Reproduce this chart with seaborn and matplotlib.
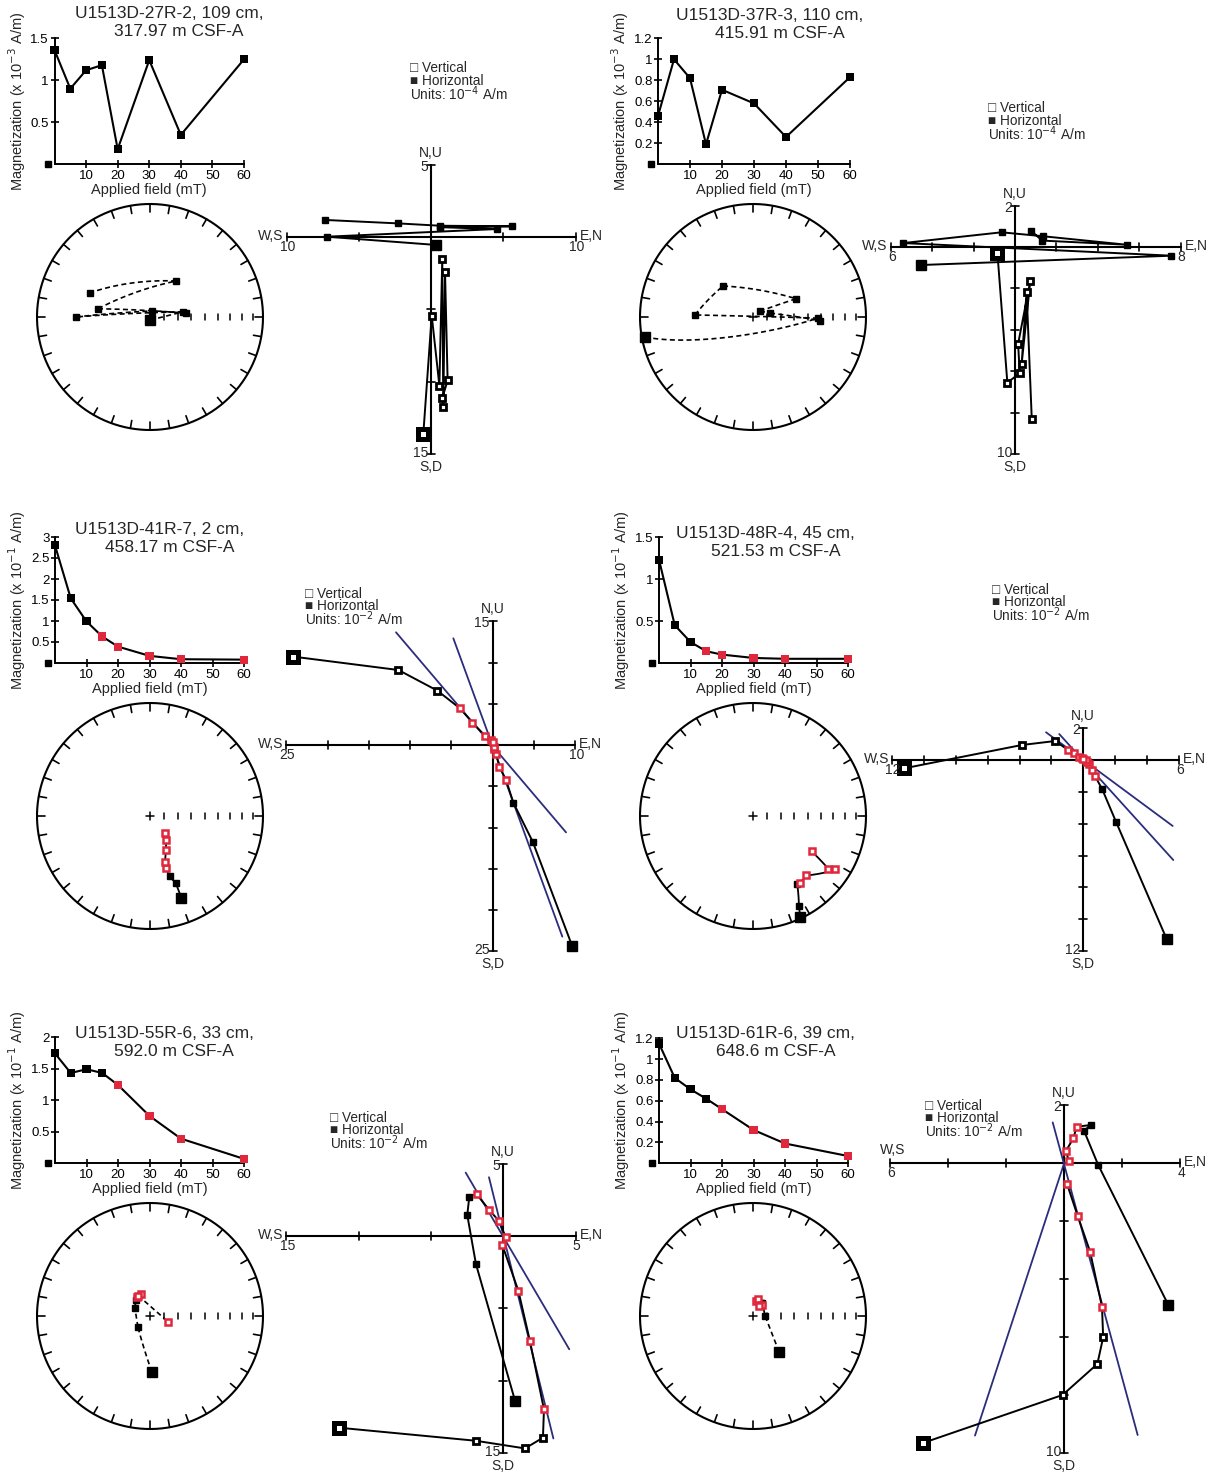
import numpy as np
import matplotlib
matplotlib.use("Agg")
import matplotlib.pyplot as plt
import seaborn as sns
import pandas as pd

sns.set_style("white")
plt.rcParams['font.family'] = ['Liberation Sans', 'DejaVu Sans']

W, H = 1219, 1475
fig = plt.figure(figsize=(W / 100, H / 100), dpi=100)

RED = '#e0283c'
BLUE = '#2b2d7c'

# ---------------- data ----------------
fields = [0, 5, 10, 15, 20, 30, 40, 60]

titles = [("U1513D-27R-2, 109 cm,", "317.97 m CSF-A"),
          ("U1513D-37R-3, 110 cm,", "415.91 m CSF-A"),
          ("U1513D-41R-7, 2 cm,", "458.17 m CSF-A"),
          ("U1513D-48R-4, 45 cm,", "521.53 m CSF-A"),
          ("U1513D-55R-6, 33 cm,", "592.0 m CSF-A"),
          ("U1513D-61R-6, 39 cm,", "648.6 m CSF-A")]
mag_exp = ["-3", "-3", "-1", "-1", "-1", "-1"]
unit_exp = ["-4", "-4", "-2", "-2", "-2", "-2"]

mag1 = [1.36, 0.90, 1.12, 1.18, 0.18, 1.24, 0.35, 1.25]
mag2 = [0.46, 1.00, 0.82, 0.19, 0.71, 0.58, 0.26, 0.83]
mag3 = [2.80, 1.54, 0.99, 0.63, 0.39, 0.17, 0.09, 0.08]
mag4 = [1.23, 0.45, 0.25, 0.14, 0.10, 0.06, 0.05, 0.05]
mag5 = [1.74, 1.43, 1.49, 1.43, 1.24, 0.75, 0.39, 0.07]
mag6 = [1.15, 0.82, 0.71, 0.62, 0.52, 0.32, 0.19, 0.07]
mag_ymax = [1.5, 1.2, 3.0, 1.5, 2.0, 1.2]
mag_yticks = [[0.5, 1, 1.5], [0.2, 0.4, 0.6, 0.8, 1, 1.2], [0.5, 1, 1.5, 2, 2.5, 3],
              [0.5, 1, 1.5], [0.5, 1, 1.5, 2], [0.2, 0.4, 0.6, 0.8, 1, 1.2]]
# first demagnetization step used in the fit (index), None = no fit
fit_start = [None, None, 3, 3, 4, 4]

# stereonet: declination / inclination (deg)
dec1 = [180, 81, 270, 19, 84, 279, 36, 292]
inc1 = [-87.8, -65.9, -34.8, -85.4, -63.7, -51.6, -57.7, -42.3]
dec2 = [259.5, 91, 272, 316, 67, 50, 77, 93]
inc2 = [-3.2, -42, -47.4, -58.7, -56, -83.4, -77.4, -40.3]
dec3 = [159, 159, 162, 163, 162, 155, 146, 138]
inc3 = [23.4, 36.5, 43.3, 50.2, 54.7, 62.8, 69.2, 73.7]
dec4 = [155, 153, 147, 145, 138, 123, 125, 121]
inc4 = [1.6, 11.6, 29, 28.4, 30, 14.2, 19.8, 39.2]
dec5 = [178, 228, 298, 319, 325, 338, 330, 108]
inc5 = [-48.9, -78.3, 77.7, 74.6, 73.5, 72.8, 73, -76.3]
dec6 = [144, 90, 35, 30, 10, 15, 40, 30]
inc6 = [-57.7, 81.3, 78.5, 79, 79, 77, 80, 82]

# Zijderveld: horizontal (filled) and vertical (open) projections
zh1_x = [0.35, -7.21, 4.54, 0.62, 5.60, 0.62, -2.26, -7.33]
zh1_y = [-0.55, 0.02, 0.55, 0.68, 0.74, 0.78, 0.94, 1.18]
zv1_x = [-0.53, 0.05, 0.58, 0.78, 0.85, 0.97, 1.15, 0.78]
zv1_y = [-13.6, -5.44, -10.28, -1.54, -11.77, -2.40, -9.93, -11.15]

zh2_x = [-4.53, 7.56, -5.40, -0.65, 1.35, 5.39, 1.31, 0.77]
zh2_y = [-0.87, -0.42, 0.19, 0.71, 0.52, 0.11, 0.31, 0.79]
zv2_x = [-0.85, -0.37, 0.23, 0.15, 0.74, 0.32, 0.56, 0.81]
zv2_y = [-0.29, -6.55, -6.10, -4.68, -1.63, -5.66, -2.15, -8.31]

zh3_x = [9.62, 4.85, 2.50, 1.62, 0.81, 0.40, 0.20, 0.10]
zh3_y = [-24.32, -11.72, -6.99, -4.24, -2.63, -1.10, -0.50, -0.20]
zv3_x = [-24.16, -11.43, -6.71, -3.96, -2.46, -0.93, -0.24, 0.00]
zv3_y = [10.71, 9.09, 6.59, 4.44, 2.71, 1.13, 0.61, 0.40]

zh4_x = [5.23, 2.05, 1.19, 0.73, 0.56, 0.38, 0.25, 0.15]
zh4_y = [-11.23, -3.87, -1.84, -1.00, -0.63, -0.27, -0.10, 0.00]
zv4_x = [-11.23, -3.87, -1.78, -0.94, -0.59, -0.25, -0.10, 0.00]
zv4_y = [-0.52, 0.94, 1.19, 0.63, 0.42, 0.21, 0.10, 0.05]

zh5_x = [0.81, -1.89, -2.49, -2.35, -1.84, -0.97, -0.32, 0.16]
zh5_y = [-11.38, -1.94, 1.45, 2.72, 2.88, 1.80, 1.06, -0.05]
zv5_x = [-11.34, -1.91, 1.50, 2.74, 2.81, 1.84, 1.04, -0.07]
zv5_y = [-13.25, -14.15, -14.68, -13.94, -11.98, -7.26, -3.78, -0.62]

zh6_x = [3.59, 1.17, 0.68, 0.91, 0.43, 0.31, 0.06, 0.15]
zh6_y = [-4.91, -0.08, 1.10, 1.30, 1.24, 0.84, 0.41, 0.07]
zv6_x = [-4.86, -0.06, 1.14, 1.34, 1.30, 0.89, 0.46, 0.10]
zv6_y = [-9.66, -8.01, -6.94, -6.02, -4.97, -3.07, -1.83, -0.75]

# principal-component fit lines (x0, y0, x1, y1)
fits3 = [(-11.72, 13.66, 8.89, -10.59), (-4.77, 12.93, 8.44, -23.23)]
fits4 = [(-2.34, 1.74, 5.61, -4.14), (-1.51, 1.63, 5.65, -6.28)]
fits5 = [(-2.60, 4.38, 4.56, -7.83), (-0.99, 4.06, 3.46, -13.99)]
fits6 = [(-0.40, 1.39, 2.53, -9.39), (-3.08, -9.41, 0.0, 0.0)]

# Zijderveld axis extents: x range, y range, tick step
zij_xr = [(-10, 10), (-6, 8), (-25, 10), (-12, 6), (-15, 5), (-6, 4)]
zij_yr = [(-15, 5), (-10, 2), (-25, 15), (-12, 2), (-15, 5), (-10, 2)]
zij_step = [5, 2, 5, 2, 5, 2]

# ---------------- layout (pixels) ----------------
demag_box = [(54.5, 38.3, 244, 164.3), (658, 38.3, 850, 164.3),
             (55, 537, 244, 663), (659, 537, 848, 663),
             (55, 1037, 244, 1163.3), (659, 1038.3, 848, 1163.3)]
stereo_c = [(150, 317), (753, 317), (150, 816), (753, 816), (150, 1316), (753, 1316)]
zij_c = [(431, 237), (1015, 247), (492.7, 745), (1083.3, 760), (503.3, 1236), (1064.3, 1162.7)]
zij_scale = [14.45, 20.7, 8.25, 15.93, 14.47, 29.0]
title_pos = [(75, 114, 14, 32), (676, 715, 16, 34), (75, 105, 530, 548),
             (676, 711, 533, 551), (75, 114, 1033, 1051), (676, 716, 1033, 1051)]
legend_pos = [(410, 68), (988, 108), (305, 593), (992, 589), (330, 1117), (925, 1105)]


def px_axes(x0, y0, x1, y1):
    return fig.add_axes([x0 / W, 1 - y1 / H, (x1 - x0) / W, (y1 - y0) / H])


def ftext(x, y, s, **kw):
    kw.setdefault('fontsize', 10)
    return fig.text(x / W, 1 - y / H, s, **kw)


def demag(i, mag):
    x0, y0, x1, y1 = demag_box[i]
    ax = px_axes(x0, y0, x1, y1)
    df = pd.DataFrame({'field': fields, 'mag': mag})
    sns.lineplot(data=df, x='field', y='mag', color='black', lw=1.5, ax=ax,
                 sort=False, estimator=None)
    fs = fit_start[i]
    cols = ['black' if (fs is None or k < fs) else RED for k in range(len(fields))]
    df['c'] = cols
    sns.scatterplot(data=df, x='field', y='mag', hue='c', palette={'black': 'black', RED: RED},
                    marker='s', s=34, edgecolor='none', legend=False, ax=ax, zorder=3,
                    clip_on=False)
    ax.set_xlim(0, 60)
    ax.set_ylim(0, mag_ymax[i])
    ax.set_xticks([10, 20, 30, 40, 50, 60])
    ax.set_yticks(mag_yticks[i])
    ax.set_yticklabels([f"{t:g}" for t in mag_yticks[i]])
    for s in ['top', 'right']:
        ax.spines[s].set_visible(False)
    for s in ['left', 'bottom']:
        ax.spines[s].set_color('black')
        ax.spines[s].set_linewidth(1.4)
    ax.tick_params(direction='inout', length=6, width=1.2, labelsize=9.5, pad=1,
                   colors='black', bottom=True, left=True)
    ax.set_xlabel("Applied field (mT)", fontsize=10.5, labelpad=1)
    ax.set_ylabel("Magnetization (x 10$^{" + mag_exp[i] + "}$ A/m)", fontsize=10.5, labelpad=2)
    ax.plot([-2.1], [0], marker='s', color='black', ms=5, clip_on=False)
    ax.patch.set_alpha(0)
    t1, t2 = titles[i]
    xa, xb, ya, yb = title_pos[i]
    ftext(xa, ya, t1, fontsize=12.5, va='center', ha='left')
    ftext(xb, yb, t2, fontsize=12.5, va='center', ha='left')


def eqarea(dec, inc):
    dec = np.radians(np.asarray(dec, float))
    inc = np.asarray(inc, float)
    r = np.sqrt(2) * np.sin(np.radians(90 - np.abs(inc)) / 2)
    return r * np.sin(dec), r * np.cos(dec)


def stereonet(i, dec, inc):
    cx, cy = stereo_c[i]
    R = 113
    ax = px_axes(cx - 1.1 * R, cy - 1.1 * R, cx + 1.1 * R, cy + 1.1 * R)
    ax.set_xlim(-1.1, 1.1)
    ax.set_ylim(-1.1, 1.1)
    ax.axis('off')
    th = np.linspace(0, 2 * np.pi, 400)
    ax.plot(np.cos(th), np.sin(th), color='black', lw=1.5)
    for a in np.radians(np.arange(0, 360, 10)):
        ax.plot([np.sin(a), 0.93 * np.sin(a)], [np.cos(a), 0.93 * np.cos(a)], color='black', lw=1.2)
    ax.plot([-0.035, 0.035], [0, 0], color='black', lw=1.1)
    ax.plot([0, 0], [-0.035, 0.035], color='black', lw=1.1)
    for I in range(80, 0, -10):
        r = np.sqrt(2) * np.sin(np.radians(90 - I) / 2)
        ax.plot([r, r], [-0.025, 0.025], color='black', lw=1.1)
    d = np.radians(np.asarray(dec, float))
    I = np.radians(np.asarray(inc, float))
    v = np.stack([np.cos(I) * np.cos(d), np.cos(I) * np.sin(d), np.sin(I)], axis=1)
    px, py = eqarea(dec, inc)
    dash = (0, (3, 2))
    for k in range(len(v) - 1):
        a, b = v[k], v[k + 1]
        if (inc[k] < 0) != (inc[k + 1] < 0):
            sns.lineplot(x=[px[k], px[k + 1]], y=[py[k], py[k + 1]], ax=ax, color='black',
                         lw=1.2, linestyle=dash, sort=False, estimator=None)
            continue
        om = np.arccos(np.clip(np.dot(a, b), -1, 1))
        t = np.linspace(0, 1, 40)
        if om < 1e-6:
            pts = np.outer(1 - t, a) + np.outer(t, b)
        else:
            pts = (np.outer(np.sin((1 - t) * om), a) + np.outer(np.sin(t * om), b)) / np.sin(om)
        pts = pts / np.linalg.norm(pts, axis=1)[:, None]
        di = np.degrees(np.arctan2(pts[:, 1], pts[:, 0]))
        ii = np.degrees(np.arcsin(np.clip(pts[:, 2], -1, 1)))
        x, y = eqarea(di, ii)
        if inc[k] < 0:
            sns.lineplot(x=x, y=y, ax=ax, color='black', lw=1.2, linestyle=dash,
                         sort=False, estimator=None)
        else:
            sns.lineplot(x=x, y=y, ax=ax, color='black', lw=1.3, sort=False, estimator=None)
    fs = fit_start[i]
    for k in range(len(px)):
        red = fs is not None and k >= fs
        ms = 7.5 if k == 0 else 4.6
        if red:
            ax.plot(px[k], py[k], marker='s', ms=ms, mfc='white', mec=RED, mew=1.8, zorder=4)
        else:
            ax.plot(px[k], py[k], marker='s', ms=ms, color='black', zorder=4)


def zijderveld(i, hx, hy, vx, vy, fits=None):
    cx, cy = zij_c[i]
    sc = zij_scale[i]
    xr, yr, step = zij_xr[i], zij_yr[i], zij_step[i]
    x0, x1 = cx + xr[0] * sc, cx + xr[1] * sc
    y0, y1 = cy - yr[1] * sc, cy - yr[0] * sc
    ax = px_axes(x0, y0, x1, y1)
    ax.set_xlim(xr)
    ax.set_ylim(yr)
    ax.axis('off')
    ax.plot(xr, [0, 0], color='black', lw=1.5, clip_on=False)
    ax.plot([0, 0], yr, color='black', lw=1.5, clip_on=False)
    t = 4.0 / sc
    for v in np.arange(xr[0], xr[1] + 1e-6, step):
        if abs(v) > 1e-9:
            ax.plot([v, v], [-t, t], color='black', lw=1.2, clip_on=False)
    for v in np.arange(yr[0], yr[1] + 1e-6, step):
        if abs(v) > 1e-9:
            ax.plot([-t, t], [v, v], color='black', lw=1.2, clip_on=False)
    if fits:
        for (a, b, c, d) in fits:
            ax.plot([a, c], [b, d], color=BLUE, lw=1.3, zorder=2)
    fs = fit_start[i]
    for xs, ys, filled in [(hx, hy, True), (vx, vy, False)]:
        df = pd.DataFrame({'x': xs, 'y': ys})
        sns.lineplot(data=df, x='x', y='y', sort=False, estimator=None, color='black',
                     lw=1.4, ax=ax, zorder=3)
        for k in range(len(xs)):
            red = fs is not None and k >= fs
            ms = 7.5 if k == 0 else 4.8
            if red:
                ax.plot(xs[k], ys[k], marker='s', ms=ms, mfc='white', mec=RED, mew=1.8,
                        zorder=5, clip_on=False)
            elif filled:
                ax.plot(xs[k], ys[k], marker='s', ms=ms, color='black', zorder=5, clip_on=False)
            else:
                ax.plot(xs[k], ys[k], marker='s', ms=ms, mfc='white', mec='black',
                        mew=2.0 if k else 3.6, zorder=5, clip_on=False)
    # labels
    fsz = 10
    ftext(cx, y0 - 12, "N,U", ha='center', va='center', fontsize=fsz)
    ftext(cx - 3, y0 + 2, f"{yr[1]:g}", ha='right', va='center', fontsize=fsz)
    ftext(cx - 3, y1 - 1, f"{-yr[0]:g}", ha='right', va='center', fontsize=fsz)
    ftext(cx, y1 + 13, "S,D", ha='center', va='center', fontsize=fsz)
    if i == 5:
        ftext(x0 - 10, cy - 13, "W,S", ha='left', va='center', fontsize=fsz)
    else:
        ftext(x0 - 3, cy - 1, "W,S", ha='right', va='center', fontsize=fsz)
    ftext(x0 + 1, cy + 10, f"{-xr[0]:g}", ha='center', va='center', fontsize=fsz)
    ftext(x1 + 4, cy - 1, "E,N", ha='left', va='center', fontsize=fsz)
    ftext(x1 + 1, cy + 10, f"{xr[1]:g}", ha='center', va='center', fontsize=fsz)
    # legend (one multi-line text block)
    lx, ly = legend_pos[i]
    ftext(lx, ly - 6.5, "\u25a1 Vertical\n\u25a0 Horizontal\nUnits: 10$^{" + unit_exp[i] + "}$ A/m",
          ha='left', va='top', fontsize=9.8, linespacing=0.82)


mags = [mag1, mag2, mag3, mag4, mag5, mag6]
decs = [dec1, dec2, dec3, dec4, dec5, dec6]
incs = [inc1, inc2, inc3, inc4, inc5, inc6]
zij = [(zh1_x, zh1_y, zv1_x, zv1_y, None), (zh2_x, zh2_y, zv2_x, zv2_y, None),
       (zh3_x, zh3_y, zv3_x, zv3_y, fits3), (zh4_x, zh4_y, zv4_x, zv4_y, fits4),
       (zh5_x, zh5_y, zv5_x, zv5_y, fits5), (zh6_x, zh6_y, zv6_x, zv6_y, fits6)]

for i in range(6):
    demag(i, mags[i])
    stereonet(i, decs[i], incs[i])
    hx, hy, vx, vy, ft = zij[i]
    zijderveld(i, hx, hy, vx, vy, ft)

fig.savefig("out.png", dpi=100)
